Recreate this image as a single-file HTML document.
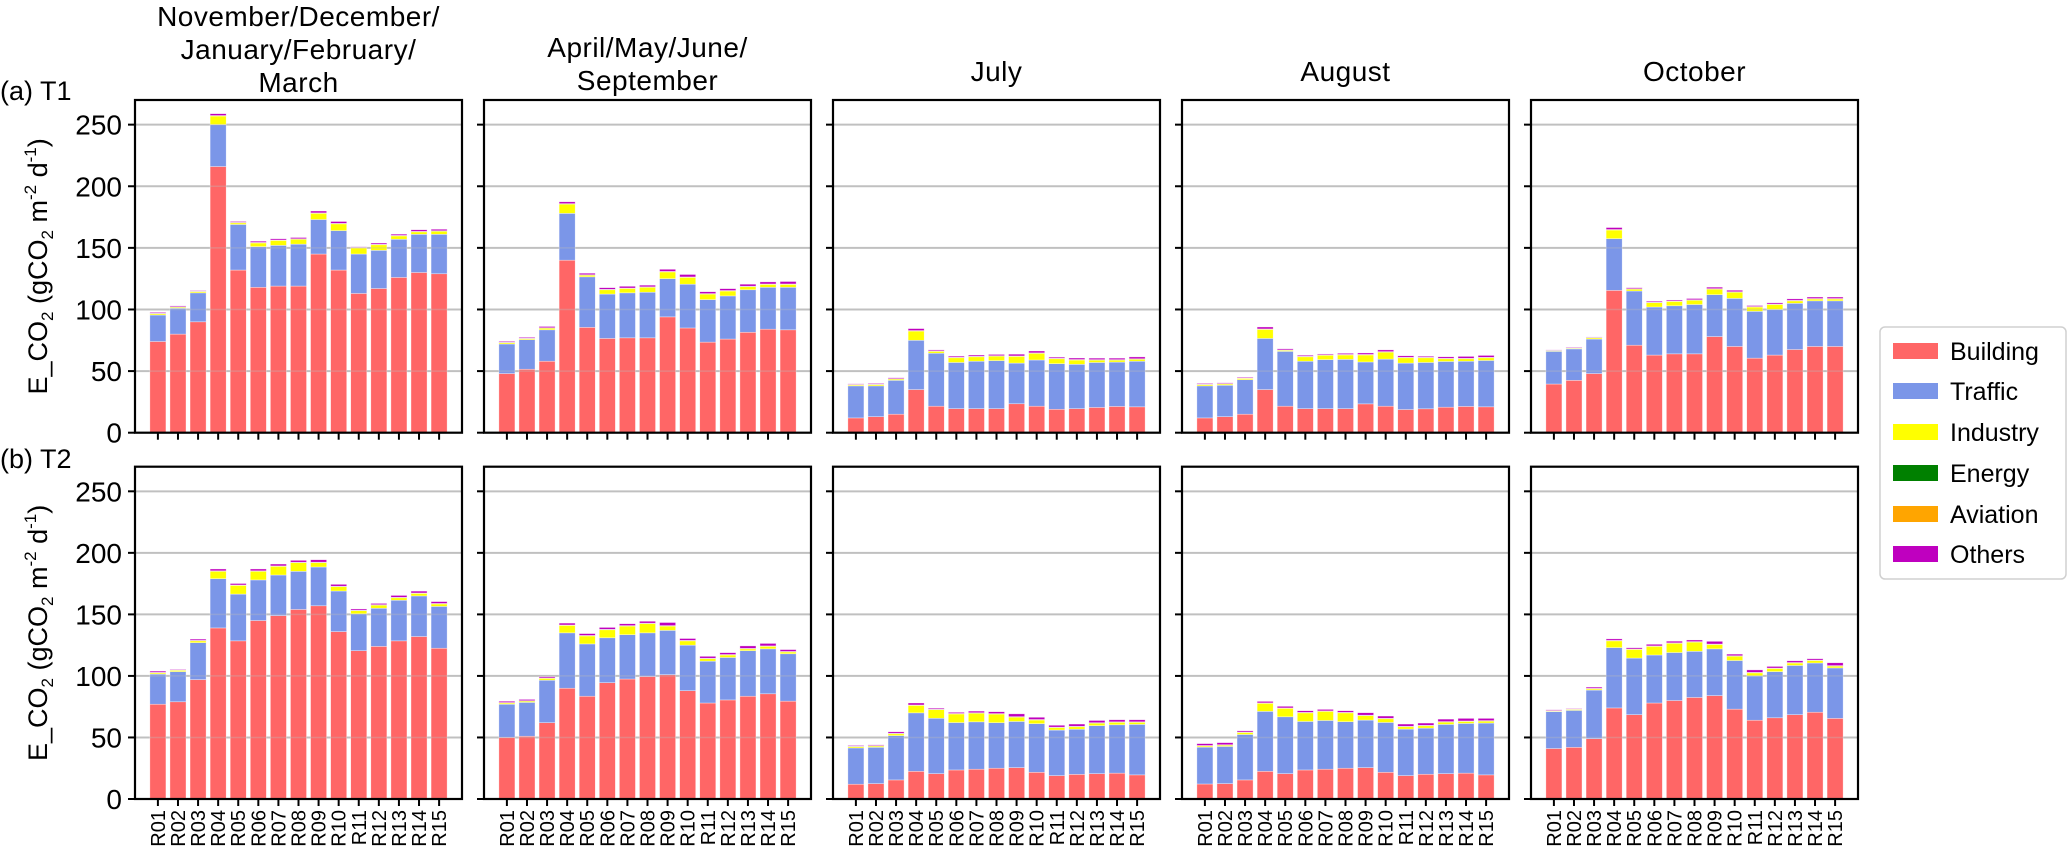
<!DOCTYPE html>
<html><head><meta charset="utf-8"><style>
html,body{margin:0;padding:0;background:#fff;}
svg{display:block;font-family:"Liberation Sans",Arial,sans-serif;}
</style></head><body>
<svg id="chart" width="2067" height="847" viewBox="0 0 2067 847" xmlns="http://www.w3.org/2000/svg"></svg>
<script>
const regions = ["R01","R02","R03","R04","R05","R06","R07","R08","R09","R10","R11","R12","R13","R14","R15"];
const periods = ["nov-mar","apr-sep","july","august","october"];
const yTicks = [0,50,100,150,200,250];
const sectors = ["Building","Traffic","Industry","Energy","Aviation","Others"];
const energySmall = [0.2,0.2,0.2,0.2,0.2,0.2,0.2,0.2,0.2,0.2,0.2,0.2,0.2,0.2,0.2];
const aviationSmall = [0.2,0.2,0.2,0.2,0.2,0.2,0.2,0.2,0.2,0.2,0.2,0.2,0.2,0.2,0.2];

// Row T1
const t1NovMarBuilding = [74,80,90,216,132,118,119,119,145,132,113,117,126,130,129];
const t1NovMarTraffic  = [21.5,21,23.5,34,37,33,33,34,28,32,32,31,31,31,32];
const t1NovMarIndustry = [1,0.8,1,7,1.3,3,4,4,5,5.5,5,4.5,2.7,2,2.5];
const t1NovMarOthers   = [0.7,0.7,0.5,1.5,0.7,1,1,1,1.5,1.5,0.5,1,1,1.3,1.2];
const t1AprSepBuilding = [48,51.5,58,140,85.5,76.5,77,77,94,85,73.5,76,81.5,84,83.5];
const t1AprSepTraffic  = [24,24,25.5,38,41,36,36.5,37,31,35.5,34.5,35,34.5,34,34.5];
const t1AprSepIndustry = [1,0.8,1.3,7.5,1.3,3.5,3.5,4,5.5,5.5,4.5,4,2.5,2.3,2.3];
const t1AprSepOthers   = [0.7,0.7,1,1.5,1.2,1.3,1.4,1.3,1.7,2,1.5,1.5,1.6,1.7,2];
const t1JulBuilding = [12,13,15,35,21.5,19.5,19.5,19.5,23.5,21.5,19,19.5,20.5,21.3,21];
const t1JulTraffic  = [26,25,27.5,40,43,37.5,38.5,39,33,37.5,37,36,36.5,36,37];
const t1JulIndustry = [0.8,1,1,7.5,1.5,3.8,3.6,3.6,5.4,5.4,4,3.5,1.9,1.6,1.6];
const t1JulOthers   = [0.5,0.6,0.7,1.6,0.8,0.9,1,1,1.4,1.5,0.9,1.2,1.2,1.2,1.5];
const t1AugBuilding = [12,13,15,35,21.5,19.5,19.5,19.5,23.4,21.5,18.8,19.4,20.7,21.3,21];
const t1AugTraffic  = [26,25.5,28,41.5,44.5,38.5,39.8,40,34,38.2,37.7,37.6,37.1,36.7,37.6];
const t1AugIndustry = [1,1,1,7.3,0.8,3.6,3.5,3.6,5.7,5.7,4.3,3.8,2.2,2,2.2];
const t1AugOthers   = [0.6,0.6,0.6,1.6,0.9,0.8,0.7,0.9,1.2,1.4,1.2,0.8,1.2,1.5,1.5];
const t1OctBuilding = [39.5,42.5,48,115.5,71,63,64,64,78,70,60.5,63,67.5,70,70];
const t1OctTraffic  = [26.5,25.5,28,42,44,39,39,40,34,39,38,37,37.5,37,37];
const t1OctIndustry = [0.5,0.5,1,7,1.5,3.5,3.5,3.5,4.5,5,3.5,4,2,1.5,1.5];
const t1OctOthers   = [0.3,0.5,0.3,1.6,0.8,0.8,0.8,1,1.2,1.2,0.8,1,1.2,1.2,1.2];
// Row T2
const t2NovMarBuilding = [77,79,97,139,128.5,145,149,154,157,136,120.5,124,128.5,132,122.5];
const t2NovMarTraffic  = [24.5,24.5,30,40,38,33,33,31,31.5,33,30,31,33,33,34];
const t2NovMarIndustry = [1,1,1.5,6,7,7,7,7,3.5,3.5,2.5,2.5,2,2,2];
const t2NovMarOthers   = [1,0.5,1,1.5,1.2,1.5,1.5,1.5,2,1.5,1,1,1.5,1.5,1.5];
const t2AprSepBuilding = [50,51,62,90,83.5,94.5,97.5,99.5,101,88,78,80.5,83.5,85.5,79.5];
const t2AprSepTraffic  = [27,27.5,34.5,45,42.5,36.5,36,35.5,36,37,34,34.5,37,36.5,38.5];
const t2AprSepIndustry = [1,1,1.5,6,6.5,6.5,7,7.5,3.5,3.5,2,2,1.5,2,1.5];
const t2AprSepOthers   = [1,1,1,1.5,1.5,1.5,1.5,1.5,2.5,1.5,1.5,1.5,2,2,1.5];
const t2JulBuilding = [12,12.5,15.5,22.5,20.6,23.6,24.2,25,25.5,21.7,19,20,20.6,21,19.6];
const t2JulTraffic  = [29.5,29.5,36,47.5,45,38.5,38.5,37,37.5,39.5,37,36.7,39,39.3,41];
const t2JulIndustry = [1,1,1.5,6,7,7,7,7,3.5,3,2,2,2,2,1.7];
const t2JulOthers   = [0.6,0.6,1.2,1.6,0.8,0.9,1.3,1.5,2.3,1.8,1.5,1.8,1.8,1.7,1.7];
const t2AugBuilding = [12.2,12.5,15.5,22.5,20.6,23.6,24.2,25,25.5,21.7,19,20.1,20.6,21,19.6];
const t2AugTraffic  = [29.9,30.2,36.9,48.7,46.2,39.4,39.6,37.8,38.6,40.5,37.8,37.5,40,40.4,42.1];
const t2AugIndustry = [1,1,1.6,6.5,6.8,7,7.4,7.2,3.6,3,1.9,1.9,1.9,1.6,1.6];
const t2AugOthers   = [1.5,1.7,1,1.2,1.3,1.3,1.2,1.3,2,1.8,1.8,1.8,2,2.1,1.8];
const t2OctBuilding = [41,42,49,74,68.5,78,80,82.5,84,73,64,66,68.5,70.5,65.5];
const t2OctTraffic  = [30,30,39.5,49,46,39,39,37.5,38,39.5,36,37.5,40,40,41];
const t2OctIndustry = [0.5,0.7,1,5.5,7,7,7.5,7.5,3.5,3.5,2.5,2.5,2,2,1.5];
const t2OctOthers   = [0.6,0.4,1,1.2,1,1.3,1.3,1.3,2.2,1.3,2,1.3,1.4,1.1,2.3];

const colors = ["#ff6666","#7b96e8","#ffff00","#008000","#ffa500","#bf00bf"];
const NS = "http://www.w3.org/2000/svg";
const svg = document.getElementById("chart");
function mk(tag, attrs, parent){ const e=document.createElementNS(NS,tag); for(const k in attrs) e.setAttribute(k,attrs[k]); (parent||svg).appendChild(e); return e; }

const panelLefts = [135,484,833,1182,1531];
const panelW = 327;
const rows = [{top:100,bottom:432.7,label:"(a) T1",labelY:100,name:"t1"},{top:466.7,bottom:799,label:"(b) T2",labelY:468,name:"t2"}];
const yMax = 270;
const xMin = -1.14, xMax = 15.14 - 1;
const rowData = [
 [[t1NovMarBuilding,t1NovMarTraffic,t1NovMarIndustry,energySmall,aviationSmall,t1NovMarOthers],
  [t1AprSepBuilding,t1AprSepTraffic,t1AprSepIndustry,energySmall,aviationSmall,t1AprSepOthers],
  [t1JulBuilding,t1JulTraffic,t1JulIndustry,energySmall,aviationSmall,t1JulOthers],
  [t1AugBuilding,t1AugTraffic,t1AugIndustry,energySmall,aviationSmall,t1AugOthers],
  [t1OctBuilding,t1OctTraffic,t1OctIndustry,energySmall,aviationSmall,t1OctOthers]],
 [[t2NovMarBuilding,t2NovMarTraffic,t2NovMarIndustry,energySmall,aviationSmall,t2NovMarOthers],
  [t2AprSepBuilding,t2AprSepTraffic,t2AprSepIndustry,energySmall,aviationSmall,t2AprSepOthers],
  [t2JulBuilding,t2JulTraffic,t2JulIndustry,energySmall,aviationSmall,t2JulOthers],
  [t2AugBuilding,t2AugTraffic,t2AugIndustry,energySmall,aviationSmall,t2AugOthers],
  [t2OctBuilding,t2OctTraffic,t2OctIndustry,energySmall,aviationSmall,t2OctOthers]]
];

// titles
const titles = [
 {lines:["November/December/","January/February/","March"],base:[26,59,92]},
 {lines:["April/May/June/","September"],base:[57,90]},
 {lines:["July"],base:[81]},
 {lines:["August"],base:[81]},
 {lines:["October"],base:[81]}
];
titles.forEach((t,p)=>{
  t.lines.forEach((ln,i)=>{
    const e=mk("text",{x:panelLefts[p]+panelW/2,y:t.base[i],"text-anchor":"middle","font-size":"28","letter-spacing":"0.5"});
    
    
    e.textContent=ln;
  });
});

rows.forEach((row,r)=>{
  const ys = v => row.bottom - v/yMax*(row.bottom-row.top);
  const lab=mk("text",{x:0,y:row.labelY,"font-size":"27"});
  
  
  lab.textContent=row.label;
  // y axis title
  const cy=(row.top+row.bottom)/2;
  const yt=mk("text",{x:0,y:0,"font-size":"27","text-anchor":"middle",transform:`translate(47,${cy}) rotate(-90)`});
  
  
  yt.innerHTML='E_CO<tspan font-size="17" dy="6">2</tspan><tspan dy="-6"> (gCO</tspan><tspan font-size="17" dy="6">2</tspan><tspan dy="-6"> m</tspan><tspan font-size="17" dy="-11">-2</tspan><tspan dy="11"> d</tspan><tspan font-size="17" dy="-11">-1</tspan><tspan dy="11">)</tspan>';
  panelLefts.forEach((L,p)=>{
    const xs = i => L + (i - xMin)/(xMax - xMin + 1)*panelW;
    const g=mk("g",{});
    
    
    yTicks.forEach(v=>{
      if(v>0){
        const gl=mk("line",{x1:L,x2:L+panelW,y1:ys(v),y2:ys(v),stroke:"#c4c4c4","stroke-width":"2"},g);
        
        
      }
      const tk=mk("line",{x1:L-7,x2:L,y1:ys(v),y2:ys(v),stroke:"#000","stroke-width":"2"},g);
      
      
      if(p===0){
        const tl=mk("text",{x:L-13,y:ys(v)+10,"text-anchor":"end","font-size":"28"},g);
        
        
        tl.textContent=v;
      }
    });
    const data=rowData[r][p];
    regions.forEach((reg,i)=>{
      let acc=0;
      const cx=xs(i), bw=0.8*(xs(1)-xs(0));
      data.forEach((arr,s)=>{
        const v=arr[i];
        const y1=ys(acc+v), y0=ys(acc);
        const b=mk("rect",{x:cx-bw/2,y:y1,width:bw,height:Math.max(0,y0-y1),fill:colors[s],stroke:"#ffffff","stroke-width":"0.6","stroke-opacity":"0.6"},g);
        
        
        acc+=v;
      });
      const xt=mk("line",{x1:cx,x2:cx,y1:row.bottom,y2:row.bottom+7,stroke:"#000","stroke-width":"2"},g);
      
      
      if(r===1){
        const xl=mk("text",{x:0,y:0,"font-size":"20","text-anchor":"end",transform:`translate(${cx+7},${row.bottom+11}) rotate(-90)`},g);
        
        
        xl.textContent=reg;
      }
    });
    yTicks.forEach(v=>{
      if(v>0){
        const go=mk("line",{x1:L,x2:L+panelW,y1:ys(v),y2:ys(v),stroke:"#bbbbbb","stroke-width":"1.5","stroke-opacity":"0.35"},g);
        
        
      }
    });
    const fr=mk("rect",{x:L,y:row.top,width:panelW,height:row.bottom-row.top,fill:"none",stroke:"#000","stroke-width":"2.2"},g);
    
    
  });
});

// legend
const lg=mk("g",{});


mk("rect",{x:1880,y:327,width:186,height:252,rx:5,fill:"#fff",stroke:"#d0d0d0","stroke-width":"1.5"},lg);
const legendYs=[351,391,432,473,514,554];
sectors.forEach((s,i)=>{
  const pr=mk("rect",{x:1893,y:legendYs[i]-8,width:45,height:16,fill:colors[i]},lg);
  
  
  const t=mk("text",{x:1950,y:legendYs[i]+9,"font-size":"25"},lg);
  
  
  t.textContent=s;
});
</script>
</body></html>
